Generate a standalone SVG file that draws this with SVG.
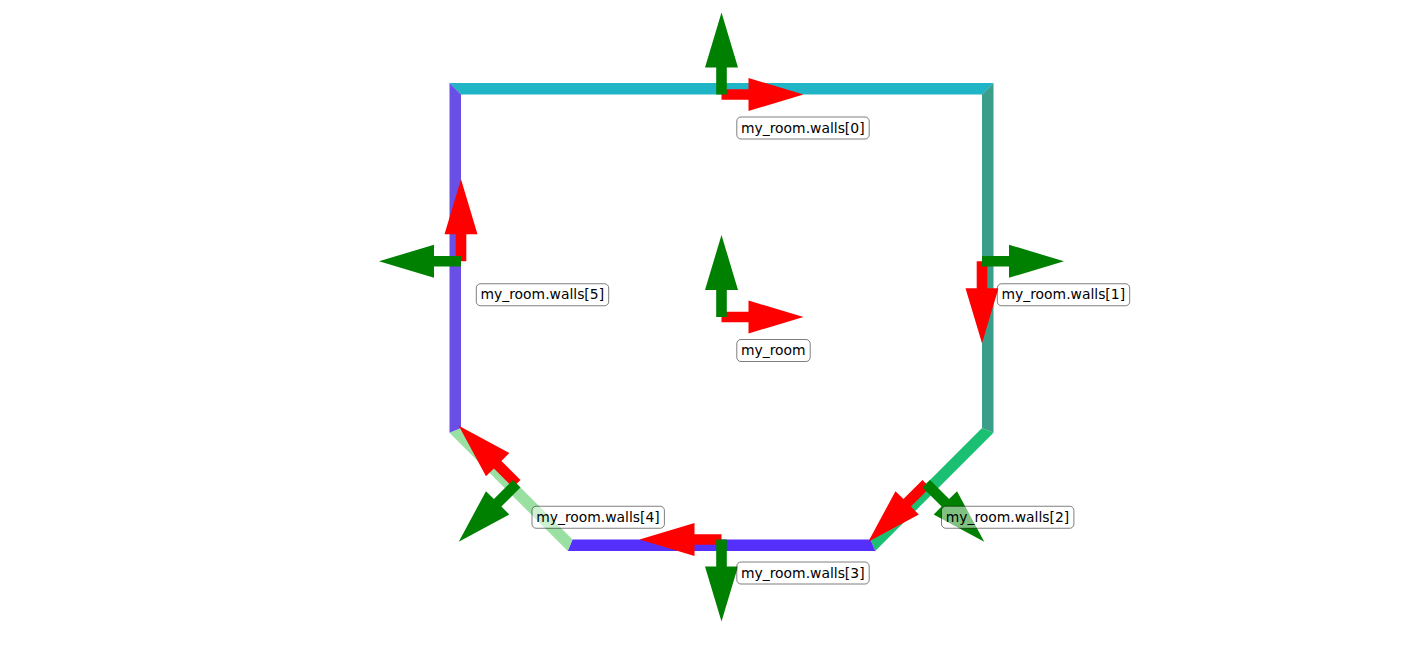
<svg xmlns="http://www.w3.org/2000/svg" width="1420" height="657" viewBox="0 0 1420 657">
<style>
.lbl{font-family:"DejaVu Sans",sans-serif;font-size:13.9px;fill:#000}
.box{fill:#fff;fill-opacity:.5;stroke:#000;stroke-opacity:.5;stroke-width:1}
.x{fill:#ff0000}
.y{fill:#008000}
</style>
<defs>
<path id="ax" d="M0,-5.3 H27 V-16.5 L82,0 L27,16.5 V5.3 H0 Z"/>
</defs>
<rect width="1420" height="657" fill="#fff"/>
<g id="walls">
<polygon id="wall0" fill="#1fb4c6" points="461,94.5 982,94.5 993.5,83 449.5,83"/>
<polygon id="wall1" fill="#3a9e8a" points="982,94.5 982,428 993.5,432.76 993.5,83"/>
<polygon id="wall2" fill="#1bbf72" points="982,428 870.5,539.5 875.26,551 993.5,432.76"/>
<polygon id="wall3" fill="#5530fc" points="870.5,539.5 572.5,539.5 567.74,551 875.26,551"/>
<polygon id="wall4" fill="#99e0a2" points="572.5,539.5 461,428 449.5,432.76 567.74,551"/>
<polygon id="wall5" fill="#6a4fe6" points="461,428 461,94.5 449.5,83 449.5,432.76"/>
</g>
<g id="frame_room">
<use href="#ax" class="x" transform="translate(721.5,317)"/>
<use href="#ax" class="y" transform="translate(721.5,317) rotate(-90)"/>
<rect class="box" x="736.8" y="339.5" width="73.4" height="22" rx="4.2"/>
<text class="lbl" x="741" y="355">my_room</text>
</g>
<g id="frame_wall0">
<use href="#ax" class="x" transform="translate(721.5,94.5)"/>
<use href="#ax" class="y" transform="translate(721.5,94.5) rotate(-90)"/>
<rect class="box" x="736.8" y="117" width="132.4" height="22" rx="4.2"/>
<text class="lbl" x="741" y="132.5">my_room.walls[0]</text>
</g>
<g id="frame_wall1">
<use href="#ax" class="x" transform="translate(982,261.25) rotate(90)"/>
<use href="#ax" class="y" transform="translate(982,261.25)"/>
<rect class="box" x="997.3" y="283.75" width="132.4" height="22" rx="4.2"/>
<text class="lbl" x="1001.5" y="299.25">my_room.walls[1]</text>
</g>
<g id="frame_wall2">
<use href="#ax" class="x" transform="translate(926.25,483.75) rotate(135)"/>
<use href="#ax" class="y" transform="translate(926.25,483.75) rotate(45)"/>
<rect class="box" x="941.5" y="506.25" width="132.4" height="22" rx="4.2"/>
<text class="lbl" x="945.7" y="521.75">my_room.walls[2]</text>
</g>
<g id="frame_wall3">
<use href="#ax" class="x" transform="translate(721.5,539.5) rotate(180)"/>
<use href="#ax" class="y" transform="translate(721.5,539.5) rotate(90)"/>
<rect class="box" x="736.8" y="562" width="132.4" height="22" rx="4.2"/>
<text class="lbl" x="741" y="577.5">my_room.walls[3]</text>
</g>
<g id="frame_wall4">
<use href="#ax" class="x" transform="translate(516.75,483.75) rotate(-135)"/>
<use href="#ax" class="y" transform="translate(516.75,483.75) rotate(135)"/>
<rect class="box" x="532" y="506.25" width="132.4" height="22" rx="4.2"/>
<text class="lbl" x="536.2" y="521.75">my_room.walls[4]</text>
</g>
<g id="frame_wall5">
<use href="#ax" class="x" transform="translate(461,261.25) rotate(-90)"/>
<use href="#ax" class="y" transform="translate(461,261.25) rotate(180)"/>
<rect class="box" x="476.3" y="283.75" width="132.4" height="22" rx="4.2"/>
<text class="lbl" x="480.5" y="299.25">my_room.walls[5]</text>
</g>
</svg>
